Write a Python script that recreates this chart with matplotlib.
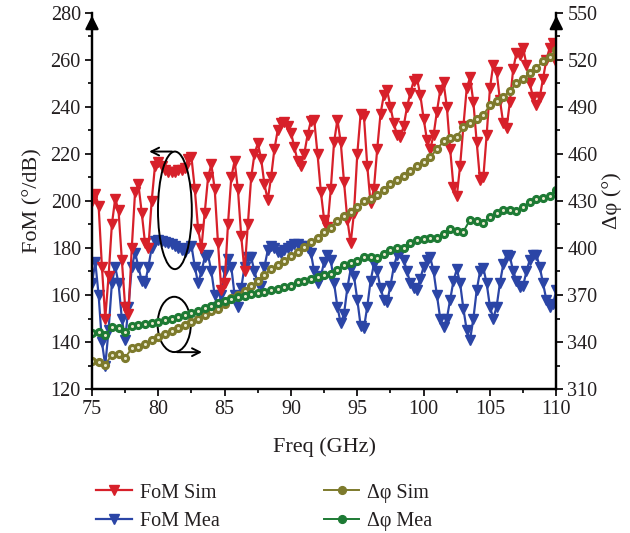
import matplotlib
matplotlib.use("Agg")
import matplotlib.pyplot as plt
from matplotlib.patches import Ellipse
from matplotlib.ticker import MultipleLocator
import numpy as np

plt.rcParams["font.family"] = ["Liberation Serif", "DejaVu Serif"]

C_SIM, C_MEA = "#d7202a", "#2b45a6"
C_PSIM, C_PMEA = "#7d7a2c", "#1d7a34"
INK = "#231f20"

# FoM (deg/dB), swept 75..110 GHz in 0.25 GHz steps
fom_sim = [200, 203, 198, 172, 150, 168, 190, 201, 196, 175, 155, 152, 180, 204, 207, 195,
           182, 180, 200, 215, 216.5, 215, 213, 212.5, 212.5, 212.5, 213, 213, 214, 218,
           218.5, 205, 188, 180, 195, 210, 215.5, 205, 182, 162, 165, 190, 210, 217, 205,
           185, 170, 190, 210, 220, 224.5, 218, 207, 200.5, 210, 222, 230, 233, 233.5, 232,
           229, 223, 217, 215, 220, 228, 234, 234.5, 220, 204, 192, 189, 205, 225, 234.5,
           225, 208, 192, 182, 195, 220, 237, 236, 215, 199, 205, 222, 237, 245, 247, 240,
           233, 228, 227, 232, 240, 246, 251, 252, 245, 235, 226, 222, 228, 238, 247, 250.5,
           240, 222, 206, 202, 215, 232, 248, 252.5, 242, 225, 209, 210, 228, 248, 258, 255,
           243, 233, 231, 242, 256, 263, 262, 265, 258, 250, 244, 241, 244, 252, 260, 265,
           267, 259]
fom_mea = [165, 174, 160, 140, 130, 145, 165, 172, 165, 150, 141, 155, 172, 178, 172, 166,
           165, 172, 180, 183, 183.5, 183, 182.5, 182, 181.5, 181, 180, 179, 178.5, 180,
           181, 172, 165, 170, 176, 177, 170, 160, 155, 160, 170, 175.5, 172, 160, 155, 163,
           172, 176, 176, 170, 165, 164, 172, 179, 181, 180, 178.5, 178, 179, 180, 181,
           181.5, 181.5, 181, 181, 180, 178, 170, 165, 168, 174, 177, 175, 165, 155, 148,
           152, 163, 171, 168, 158, 147, 146, 155, 166, 173, 170, 163, 158, 157, 164, 172,
           177, 178, 175, 170, 165, 163, 162, 167, 172, 175, 176, 170, 160, 150, 146.5, 150,
           158, 166, 171, 165, 154, 145, 141, 150, 162, 170, 171.5, 165, 155, 150, 155, 165,
           173, 177, 176.5, 170, 166, 163.5, 164, 170, 175, 177, 177, 172, 165, 158, 155,
           156, 162]

# phase difference (deg), 0.5 GHz steps
phi_sim = [328, 327, 325.5, 332, 332.5, 330, 336, 337, 338.5, 341, 343, 345, 347, 349, 351,
           353, 355, 357, 359.5, 361, 364, 368, 370, 372.5, 375.5, 379, 383, 386.5, 389, 392,
           395, 397.5, 400.5, 403.5, 406.5, 410, 413, 417, 420.5, 423, 426, 430, 431.5, 434,
           437, 441, 443.5, 446, 449, 452, 455, 458, 463, 468, 470, 471, 477, 480, 482, 485,
           491, 494, 496.5, 500, 505, 508, 511.5, 515, 519, 522, 526]
phi_mea = [345.5, 346.5, 344.5, 349.5, 349, 346.5, 350, 351, 351.5, 352, 353, 354, 355, 356,
           357, 358.5, 360, 361.5, 363, 365, 366.5, 367.5, 368.5, 369.5, 370.5, 371, 372, 373,
           374, 375, 376, 378, 379, 380, 381.5, 382.5, 383.5, 386, 389, 390.5, 391.5, 394,
           394.5, 393.5, 396, 398.5, 400, 400, 403, 405, 406, 406.5, 406.5, 409, 412, 411,
           410.5, 418, 417, 416, 420, 422, 424, 424, 423.5, 426, 429.5, 431, 432, 433, 437]

f_fom = np.linspace(75, 110, len(fom_sim))
f_phi = np.linspace(75, 110, len(phi_sim))

fig = plt.figure(figsize=(6.3, 5.33), dpi=100)
ax = fig.add_axes([0.146, 0.270, 0.737, 0.706])
ax2 = ax.twinx()

ax.plot(f_fom, fom_sim, color=C_SIM, lw=1.6, marker="v", ms=6.5, label="FoM Sim", zorder=3)
ax.plot(f_fom, fom_mea, color=C_MEA, lw=1.6, marker="v", ms=6.5, label="FoM Mea", zorder=2)

for vals, col, lab in ((phi_sim, C_PSIM, "Δφ Sim"), (phi_mea, C_PMEA, "Δφ Mea")):
    ax2.plot(f_phi, vals, color=col, lw=1.4, marker="o", ms=5.6, mec=col, mfc=col, label=lab)
    ax2.plot(f_phi, vals, ls="none", marker="o", ms=2.2, mfc="#e8e8cc", mec="none")

ax.set_xlim(75, 110)
ax.set_ylim(120, 280)
ax2.set_ylim(310, 550)
ax.xaxis.set_major_locator(MultipleLocator(5))
ax.xaxis.set_minor_locator(MultipleLocator(2.5))
ax.yaxis.set_major_locator(MultipleLocator(20))
ax.yaxis.set_minor_locator(MultipleLocator(10))
ax2.set_yticks(np.arange(310, 551, 30))
ax2.set_yticks(np.arange(325, 550, 30), minor=True)

for a in (ax, ax2):
    a.spines["top"].set_visible(False)
    for sp in a.spines.values():
        sp.set_linewidth(1.6)
    a.tick_params(which="major", direction="out", length=5, width=1.4,
                  labelsize=14.5, colors=INK, labelcolor=INK, pad=3)
    a.tick_params(which="minor", direction="out", length=3, width=1.2)

ax.set_xlabel("Freq (GHz)", fontsize=16, color=INK, labelpad=13)
ax.set_ylabel("FoM (°/dB)", fontsize=16, color=INK, labelpad=6)
ax2.set_ylabel("Δφ (°)", fontsize=16, color=INK, labelpad=3)

# axis arrowheads
for xa in (0, 1):
    ax.annotate("", xy=(xa, 1.0), xytext=(xa, 0.95), xycoords="axes fraction",
                arrowprops=dict(arrowstyle="-|>", color="k", lw=1.6, mutation_scale=20))

# ellipses with direction arrows
ax.add_patch(Ellipse((81.25, 196), 2.55, 50, fill=False, ec="k", lw=1.4, zorder=5))
ax.annotate("", xy=(79.1, 221), xytext=(81.25, 221),
            arrowprops=dict(arrowstyle="->", color="k", lw=1.4, mutation_scale=14))
ax.add_patch(Ellipse((81.2, 147.5), 2.5, 23.5, fill=False, ec="k", lw=1.4, zorder=5))
ax.annotate("", xy=(83.5, 135.7), xytext=(81.2, 135.7),
            arrowprops=dict(arrowstyle="->", color="k", lw=1.4, mutation_scale=14))

h1, l1 = ax.get_legend_handles_labels()
h2, l2 = ax2.get_legend_handles_labels()
fig.legend(h1 + h2, l1 + l2, ncol=2, loc="upper left", bbox_to_anchor=(0.153, 0.093),
           frameon=False, fontsize=14.5, numpoints=1, handlelength=1.75,
           handletextpad=0.4, columnspacing=5.2, labelspacing=0.45, labelcolor=INK,
           borderaxespad=0, borderpad=0)

fig.savefig("out.png", dpi=100)
